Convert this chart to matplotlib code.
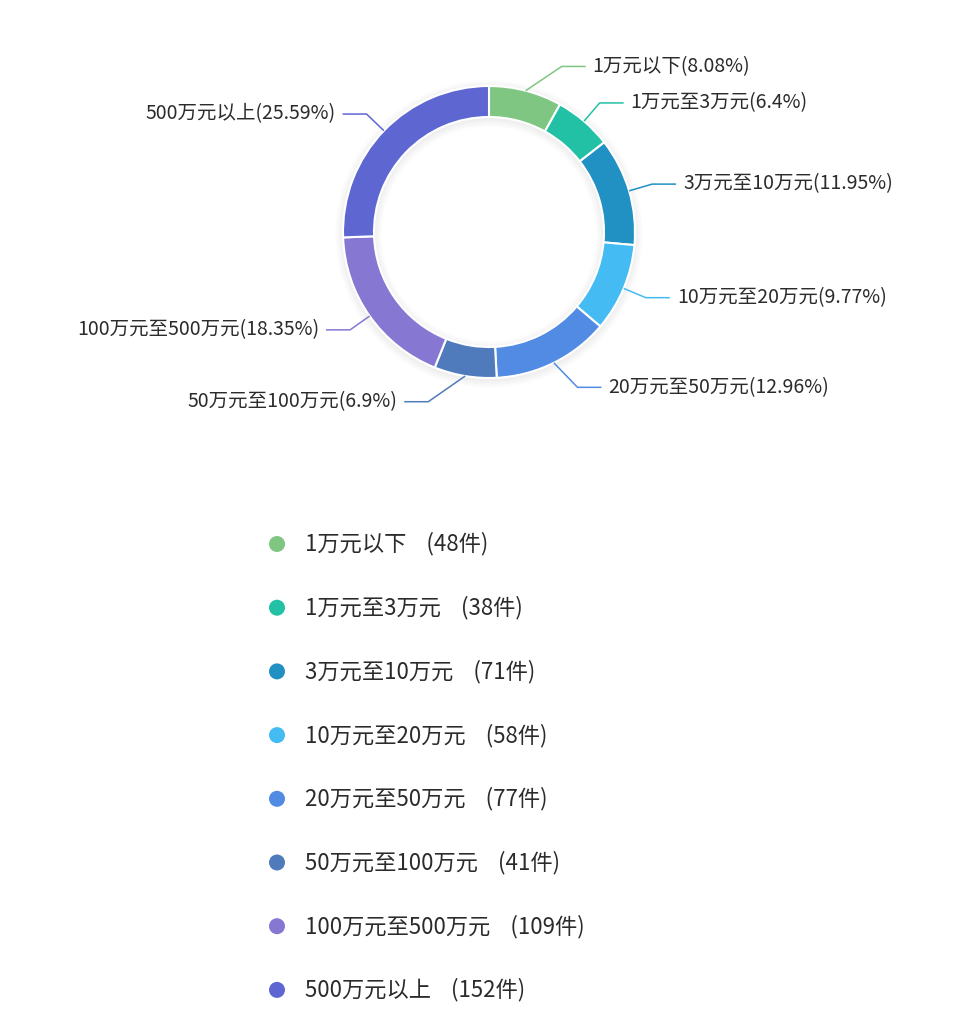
import numpy as np
import matplotlib
matplotlib.use("Agg")
import matplotlib.pyplot as plt
from matplotlib.patches import Wedge, Circle

plt.rcParams['font.family'] = ['Noto Sans CJK SC', 'DejaVu Sans']

# data
names = ["1万元以下", "1万元至3万元", "3万元至10万元", "10万元至20万元",
         "20万元至50万元", "50万元至100万元", "100万元至500万元", "500万元以上"]
counts = [48, 38, 71, 58, 77, 41, 109, 152]
pcts = ["8.08", "6.4", "11.95", "9.77", "12.96", "6.9", "18.35", "25.59"]
colors = ["#7FC682", "#22C1A6", "#2190C3", "#44BBF2",
          "#528BE3", "#4F7BBC", "#8678D2", "#5E66D2"]

W, H = 974, 1015
fig = plt.figure(figsize=(W / 100, H / 100), dpi=100)
ax = fig.add_axes([0, 0, 1, 1])

cx, cy = 489, H - 232
r_out, ring = 146, 31

# soft shadow around the ring
for k in range(1, 9):
    ax.add_patch(Wedge((cx, cy - 2), r_out + k, 0, 360, width=ring + 2 * k,
                       facecolor="#000000", alpha=0.006, linewidth=0))

ax.pie(counts, colors=colors, radius=r_out, center=(cx, cy), startangle=90,
       counterclock=False, wedgeprops=dict(width=ring, edgecolor="white", linewidth=1.5))

# label lines (echarts-like)
total = sum(counts)
cum = np.cumsum([0] + counts)
nudge = [(30, -1), (0, 0), (0, 0), (0, 0), (13, 3), (-33, 2), (0, 0), (0, 0)]
for i, name in enumerate(names):
    mid = (cum[i] + counts[i] / 2) / total * 2 * np.pi
    sx, sy = np.sin(mid), np.cos(mid)
    p0 = (cx + r_out * sx, cy + r_out * sy)
    ex = cx + 170 * sx + nudge[i][0]
    ey = cy + 170 * sy - nudge[i][1]
    side = 1 if sx >= 0 else -1
    hx = ex + side * 24
    ax.plot([p0[0], ex, hx], [p0[1], ey, ey], color=colors[i], lw=1.1,
            solid_capstyle="butt")
    ax.text(hx + side * 7, ey, f"{name}({pcts[i]}%)", fontsize=14, color="#2b2b2b",
            ha="left" if side > 0 else "right", va="center")

# legend
for i, name in enumerate(names):
    y = H - (544 + i * 63.7)
    ax.add_patch(Circle((277, y), 8, facecolor=colors[i], edgecolor="none"))
    ax.text(305, y, f"{name}    ({counts[i]}件)", fontsize=16, color="#2b2b2b",
            va="center", ha="left")

ax.set_xlim(0, W)
ax.set_ylim(0, H)
ax.set_aspect("equal")
ax.axis("off")
fig.savefig("out.png", dpi=100, facecolor="white")
